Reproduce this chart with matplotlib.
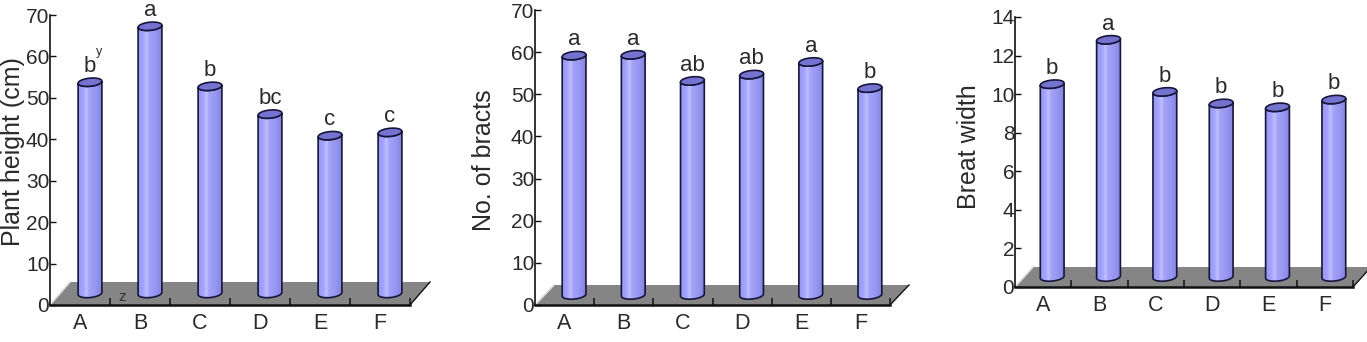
import numpy as np
import matplotlib
matplotlib.use('Agg')
import matplotlib.pyplot as plt
from matplotlib.path import Path
from matplotlib.patches import PathPatch, Polygon
from matplotlib.lines import Line2D
from matplotlib.transforms import IdentityTransform
from matplotlib.colors import LinearSegmentedColormap

# ---------------- data ----------------
categories = ['A', 'B', 'C', 'D', 'E', 'F']

height_vals = [51.0, 64.5, 50.0, 43.3, 38.1, 38.9]
height_letters = ['b', 'a', 'b', 'bc', 'c', 'c']

bracts_vals = [56.8, 57.0, 50.8, 52.3, 55.3, 49.1]
bracts_letters = ['a', 'a', 'ab', 'ab', 'a', 'b']

width_vals = [10.0, 12.3, 9.6, 9.0, 8.8, 9.2]
width_letters = ['b', 'a', 'b', 'b', 'b', 'b']

ylabels = ['Plant height (cm)', 'No. of bracts', 'Breat width']

# ---------------- layout ----------------
W, H = 1367, 342
fig = plt.figure(figsize=(W / 100, H / 100), dpi=100)
fig.patch.set_facecolor('white')

TXT = 'Liberation Sans'
NARROW = ['Liberation Sans Narrow', 'Liberation Sans']

panels = [
    dict(values=height_vals, letters=height_letters, ylabel=ylabels[0], ymax=70, step=10,
         x0=50, x1=410, y0=305, ytop=15, dx=20, dy=23, lab=(13, 152)),
    dict(values=bracts_vals, letters=bracts_letters, ylabel=ylabels[1], ymax=70, step=10,
         x0=535, x1=890, y0=305, ytop=10, dx=19, dy=20, lab=(484, 160)),
    dict(values=width_vals, letters=width_letters, ylabel=ylabels[2], ymax=14, step=2,
         x0=1015, x1=1353, y0=287, ytop=17, dx=18, dy=20, lab=(969, 147)),
]

cmap = LinearSegmentedColormap.from_list('cyl', [
    (0.0, '#7a7ade'), (0.08, '#9898f4'), (0.28, '#a6a6fe'), (0.37, '#c2c2ff'),
    (0.46, '#a4a4fa'), (0.75, '#9494ef'), (0.92, '#8585e0'), (1.0, '#6c6cc8')])
grad = np.linspace(0, 1, 64).reshape(1, -1)

EDGE = '#16163c'
A_HALF, SKEW, C_V = 11.5, 3.0, 4.2

t0 = np.arctan2(SKEW, A_HALF)
Xm = A_HALF * np.cos(t0) + SKEW * np.sin(t0)
Yt = C_V * np.sin(t0)


def ell(t):
    return np.column_stack([A_HALF * np.cos(t) + SKEW * np.sin(t), C_V * np.sin(t)])


lower = ell(np.linspace(np.pi + t0, 2 * np.pi + t0, 40))
full = ell(np.linspace(0, 2 * np.pi, 80))

for p in panels:
    n = len(categories)
    ax = fig.add_axes([p['x0'] / W, 1 - p['y0'] / H,
                       (p['x1'] - p['x0']) / W, (p['y0'] - p['ytop']) / H])
    ax.set_xlim(0, n)
    ax.set_ylim(0, p['ymax'])
    ax.set_autoscale_on(False)
    ax.patch.set_visible(False)
    for s in ['top', 'right']:
        ax.spines[s].set_visible(False)
    ax.spines['left'].set_linewidth(1.2)
    ax.spines['left'].set_color('#111111')
    ax.spines['bottom'].set_linewidth(1.8)
    ax.spines['bottom'].set_color('#111111')
    ax.spines['bottom'].set_zorder(2.5)

    td = ax.transData
    dx, dy = p['dx'], p['dy']

    # floor
    front = td.transform([(0, 0), (n, 0)])
    back = front + np.array([dx, dy])
    floor = Polygon([front[0], front[1], back[1], back[0]], closed=True,
                    transform=IdentityTransform(), facecolor='#858585',
                    edgecolor='none', zorder=1, clip_on=False)
    ax.add_patch(floor)
    ax.add_line(Line2D([front[1][0], back[1][0]], [front[1][1], back[1][1]],
                       transform=IdentityTransform(), color='#111111', lw=1.0,
                       clip_on=False, zorder=2))
    ax.add_line(Line2D([front[0][0], back[0][0]], [front[0][1], back[0][1]],
                       transform=IdentityTransform(), color='#dcdcdc', lw=1.2,
                       clip_on=False, zorder=2))

    # cylinders
    y_zero = td.transform((0, 0))[1]
    for i, v in enumerate(p['values']):
        base = td.transform((i + 0.5, 0)) + np.array([dx / 2, dy / 2])
        hpx = td.transform((0, v))[1] - y_zero
        verts = [(-Xm, -Yt + hpx), (-Xm, -Yt)]
        verts += [tuple(q) for q in lower]
        verts += [(Xm, Yt + hpx)]
        verts += [tuple(q + np.array([0, hpx])) for q in lower[::-1]]
        verts = np.array(verts) + base
        codes = [Path.MOVETO] + [Path.LINETO] * (len(verts) - 2) + [Path.CLOSEPOLY]
        body = PathPatch(Path(verts, codes), transform=IdentityTransform(),
                         facecolor='none', edgecolor=EDGE, lw=1.2, zorder=4,
                         clip_on=False)
        ax.add_patch(body)
        inv = td.inverted()
        xl, yb = inv.transform(base + np.array([-Xm - 2, -C_V - 2]))
        xr, yt = inv.transform(base + np.array([Xm + 2, hpx + C_V + 2]))
        im = ax.imshow(grad, cmap=cmap, extent=[xl, xr, yb, yt], aspect='auto',
                       origin='lower', interpolation='bilinear', zorder=3)
        im.set_clip_path(body)
        im.set_clip_box(fig.bbox)
        top = PathPatch(Path(full + base + np.array([0, hpx])), transform=IdentityTransform(),
                        facecolor='#7474d0', edgecolor=EDGE, lw=1.2, zorder=5,
                        clip_on=False)
        ax.add_patch(top)
        ax.annotate(p['letters'][i], xy=(i + 0.5, v), xytext=(dx / 2, dy / 2 + C_V + 6),
                    textcoords='offset pixels', ha='center', va='baseline',
                    fontsize=16, family=TXT, color='#2a2a2a', zorder=6)

    # ticks
    ax.set_xticks(np.arange(n) + 0.5, categories)
    ax.set_xticks(np.arange(1, n + 1), minor=True)
    ax.tick_params(axis='x', which='major', length=0, pad=5.5, labelsize=15.5,
                   labelcolor='#2a2a2a')
    ax.tick_params(axis='x', which='minor', direction='in', length=5, width=1.1,
                   color='#111111')
    yt_vals = np.arange(0, p['ymax'] + p['step'] / 2, p['step'])
    ax.set_yticks(yt_vals, [f'{int(t)}' for t in yt_vals])
    ax.tick_params(axis='y', direction='in', length=4, width=1.0, pad=0.5,
                   labelsize=15, labelcolor='#2a2a2a', color='#111111')
    for lab in ax.get_xticklabels():
        lab.set_family(TXT)
    for lab in ax.get_yticklabels():
        lab.set_family(NARROW)

    # y label
    ax.set_ylabel(p['ylabel'], fontsize=18, family=TXT, color='#2a2a2a')
    lx, ly = p['lab']
    ax.yaxis.set_label_coords((lx - p['x0']) / (p['x1'] - p['x0']),
                              (p['y0'] - ly) / (p['y0'] - p['ytop']))
    ax.yaxis.label.set_verticalalignment('center')

    if p is panels[0]:
        ax.annotate('y', xy=(0.5, height_vals[0]), xytext=(dx / 2 + 9, dy / 2 + 27),
                    textcoords='offset pixels', ha='center', va='baseline',
                    fontsize=9, family=TXT, color='#2a2a2a')
        ax.annotate('z', xy=(1, 0), xytext=(12, 4), textcoords='offset pixels',
                    ha='center', va='baseline', fontsize=11, family=TXT,
                    color='#333333', zorder=6)

fig.savefig('out.png', dpi=100, facecolor='white')
